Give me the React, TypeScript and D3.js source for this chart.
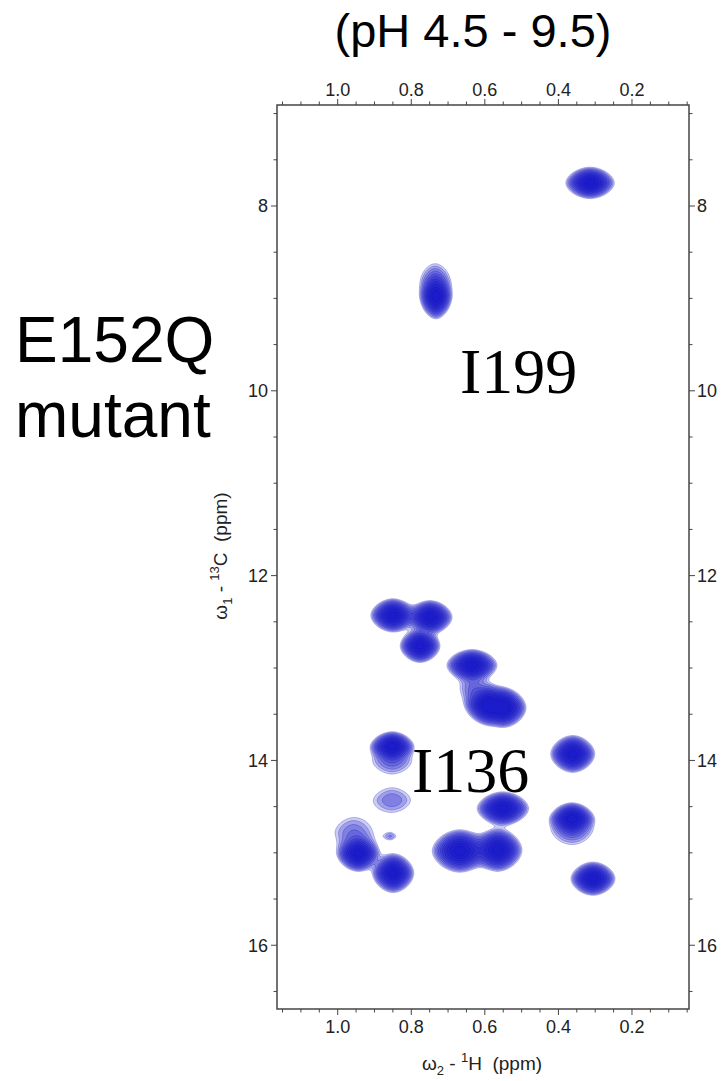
import React, { useMemo } from 'react'
import * as d3 from 'd3'

// axis tick labels
const hTicks = [1.0, 0.8, 0.6, 0.4, 0.2]
const cTicks = [8, 10, 12, 14, 16]

// cross peaks (1H ppm, 13C ppm)
const peakH = [0.314, 0.733, 0.735, 0.850, 0.749, 0.776, 0.635, 0.592, 0.548, 0.632, 0.852, 0.852, 0.852, 0.361, 0.551, 0.363, 0.363, 0.957, 0.944, 0.849, 0.668, 0.565, 0.306, 0.857]
const peakC = [7.75, 8.98, 8.80, 12.43, 12.45, 12.76, 12.97, 13.40, 13.43, 13.22, 13.85, 14.02, 14.43, 13.93, 14.52, 14.63, 14.77, 14.78, 15.01, 15.22, 14.98, 14.97, 15.28, 14.82]
const peakAmp = [1, 1, 0.14, 1, 1, 1, 1, 1, 1, 0.13, 1, 0.14, 0.13, 1, 1, 1, 0.14, 0.13, 1, 1, 1, 1, 1, 0.1]
// visible half-extent of each peak (ppm)
const peakHalfH = [0.066, 0.042, 0.036, 0.06, 0.06, 0.054, 0.068, 0.06, 0.06, 0.034, 0.058, 0.05, 0.05, 0.06, 0.07, 0.058, 0.05, 0.05, 0.056, 0.056, 0.075, 0.066, 0.06, 0.014]
const peakHalfC = [0.17, 0.24, 0.17, 0.18, 0.18, 0.18, 0.17, 0.21, 0.21, 0.13, 0.16, 0.12, 0.13, 0.2, 0.18, 0.17, 0.14, 0.16, 0.19, 0.21, 0.23, 0.23, 0.18, 0.035]

const width = 727
const height = 1081
const frame = { left: 277, right: 689, top: 105, bottom: 1009 }
const font = "'Liberation Sans', Arial, sans-serif"

export default function App() {
  const x = d3.scaleLinear().domain([1.165, 0.045]).range([frame.left, frame.right])
  const y = d3.scaleLinear().domain([6.907, 16.69]).range([frame.top, frame.bottom])

  const contourPaths = useMemo(() => {
    const cell = 1.5
    const nx = Math.ceil((frame.right - frame.left) / cell)
    const ny = Math.ceil((frame.bottom - frame.top) / cell)
    const base = 0.06
    const shape = 1.8
    const peaks = peakH.map((h, i) => {
      const px = x(h)
      const py = y(peakC[i])
      const k = Math.pow(Math.log(peakAmp[i] / base), 1 / shape)
      return {
        px, py, a: peakAmp[i],
        wx: Math.abs(x(h + peakHalfH[i]) - px) / k,
        wy: Math.abs(y(peakC[i] + peakHalfC[i]) - py) / k
      }
    })
    const values = new Array(nx * ny).fill(0)
    for (let j = 0; j < ny; j++) {
      const gy = frame.top + (j + 0.5) * cell
      for (let i = 0; i < nx; i++) {
        const gx = frame.left + (i + 0.5) * cell
        let s = 0
        for (const p of peaks) {
          const u = Math.abs(gx - p.px) / p.wx
          const v = Math.abs(gy - p.py) / p.wy
          if (u > 5 || v > 5) continue
          s += p.a * Math.exp(-(Math.pow(u, shape) + Math.pow(v, shape)))
        }
        values[j * nx + i] = s
      }
    }
    const levels = d3.range(11).map(k => base * Math.pow(1.3, k))
    const contours = d3.contours().size([nx, ny]).thresholds(levels)(values)
    const path = d3.geoPath(d3.geoIdentity().scale(cell).translate([frame.left, frame.top]))
    return contours.map(c => path(c as any) || '')
  }, [])

  const hMinor = d3.range(1, 24).map(k => +(k * 0.05).toFixed(2)).filter(v => v >= 0.045 && v <= 1.165 && !hTicks.includes(v))
  const cMinor = d3.range(14, 34).map(k => k * 0.5).filter(v => v >= 6.907 && v <= 16.69 && !cTicks.includes(v))
  const axisColor = '#444'

  return (
    <svg width={width} height={height} style={{ position: 'absolute', left: 0, top: 0, background: '#fff' }}>
      <text x={473} y={47} textAnchor="middle" fontFamily={font} fontSize={47} fill="#000">(pH 4.5 - 9.5)</text>
      <text x={15} y={362} fontFamily={font} fontSize={64} fill="#000">E152Q</text>
      <text x={15} y={437} fontFamily={font} fontSize={64} fill="#000">mutant</text>

      <g>
        {contourPaths.map((d, i) => (
          <path key={i} d={d} fill="#0c0cc8" fillOpacity={0.22} stroke="#0a0ab4" strokeWidth={0.5} strokeOpacity={0.5} />
        ))}
      </g>

      <rect x={frame.left} y={frame.top} width={frame.right - frame.left} height={frame.bottom - frame.top} fill="none" stroke={axisColor} strokeWidth={1.5} />

      <g stroke={axisColor} strokeWidth={1}>
        {hTicks.map(v => (
          <g key={'h' + v}>
            <line x1={x(v)} x2={x(v)} y1={frame.top} y2={frame.top - 6} />
            <line x1={x(v)} x2={x(v)} y1={frame.bottom} y2={frame.bottom + 6} />
          </g>
        ))}
        {hMinor.map(v => (
          <g key={'hm' + v}>
            <line x1={x(v)} x2={x(v)} y1={frame.top} y2={frame.top - 3.5} />
            <line x1={x(v)} x2={x(v)} y1={frame.bottom} y2={frame.bottom + 3.5} />
          </g>
        ))}
        {cTicks.map(v => (
          <g key={'c' + v}>
            <line x1={frame.left} x2={frame.left - 6} y1={y(v)} y2={y(v)} />
            <line x1={frame.right} x2={frame.right + 6} y1={y(v)} y2={y(v)} />
          </g>
        ))}
        {cMinor.map(v => (
          <g key={'cm' + v}>
            <line x1={frame.left} x2={frame.left - 3.5} y1={y(v)} y2={y(v)} />
            <line x1={frame.right} x2={frame.right + 3.5} y1={y(v)} y2={y(v)} />
          </g>
        ))}
      </g>

      <g fontFamily={font} fontSize={18} fill="#222">
        {hTicks.map(v => (
          <g key={'hl' + v}>
            <text x={x(v)} y={96} textAnchor="middle">{v.toFixed(1)}</text>
            <text x={x(v)} y={1033} textAnchor="middle">{v.toFixed(1)}</text>
          </g>
        ))}
        {cTicks.map(v => (
          <g key={'cl' + v}>
            <text x={268} y={y(v) + 6.5} textAnchor="end">{v}</text>
            <text x={697} y={y(v) + 6.5} textAnchor="start">{v}</text>
          </g>
        ))}
      </g>

      <text x={482} y={1070} textAnchor="middle" fontFamily={font} fontSize={19} fill="#222">
        ω<tspan fontSize={13} dy={5}>2</tspan><tspan dy={-5}>{'\u00a0-\u00a0'}</tspan><tspan fontSize={13} dy={-8}>1</tspan><tspan dy={8}>{'H\u00a0\u00a0(ppm)'}</tspan>
      </text>
      <text transform="translate(227,556) rotate(-90)" textAnchor="middle" fontFamily={font} fontSize={19} fill="#222">
        ω<tspan fontSize={13} dy={5}>1</tspan><tspan dy={-5}>{'\u00a0-\u00a0'}</tspan><tspan fontSize={13} dy={-8}>13</tspan><tspan dy={8}>{'C\u00a0\u00a0(ppm)'}</tspan>
      </text>

      <text x={460} y={393} fontFamily="'Liberation Serif', 'Times New Roman', serif" fontSize={64} fill="#000">I199</text>
      <text x={412} y={792} fontFamily="'Liberation Serif', 'Times New Roman', serif" fontSize={64} fill="#000">I136</text>
    </svg>
  )
}
